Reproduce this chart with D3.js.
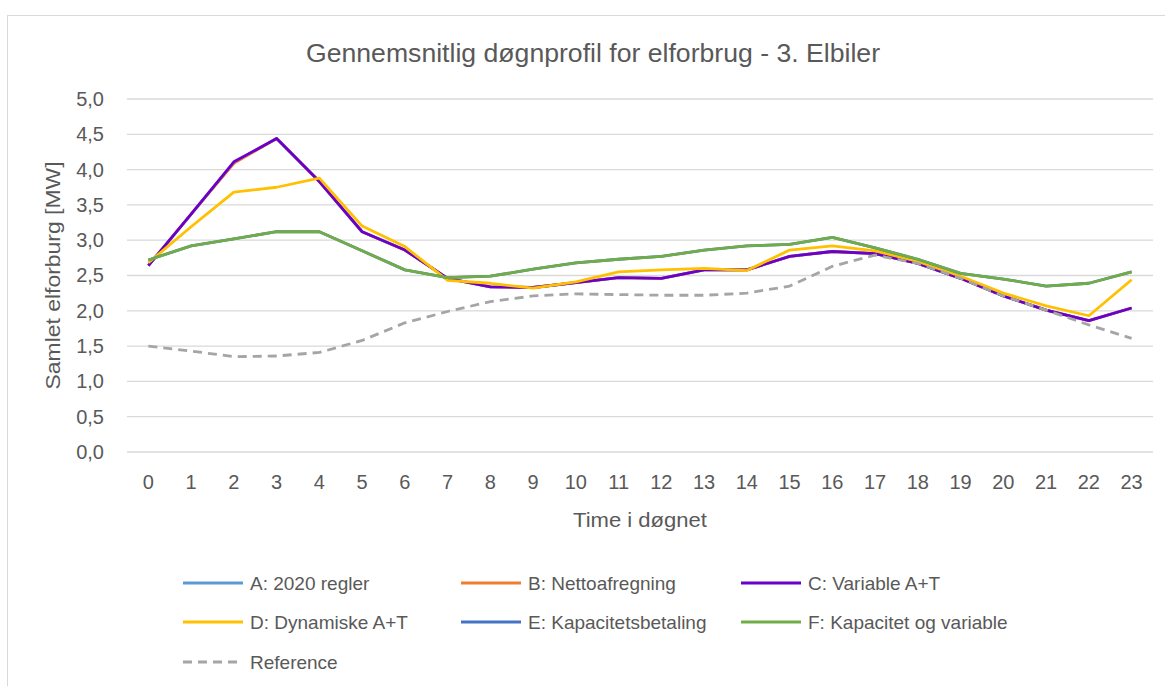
<!DOCTYPE html>
<html><head><meta charset="utf-8">
<script src="https://cdn.jsdelivr.net/npm/d3@7"></script>
<style>body{margin:0;background:#fff;}svg{display:block;}</style>
</head><body>
<svg id="chart" width="1165" height="686"></svg>
<script>
const hours = d3.range(0, 24);
const seriesNames = ["A: 2020 regler","B: Nettoafregning","C: Variable A+T","D: Dynamiske A+T","E: Kapacitetsbetaling","F: Kapacitet og variable","Reference"];
const seriesColors = ["#5B9BD5","#ED7D31","#6A00CC","#FFC000","#4472C4","#70AD47","#A5A5A5"];
const valuesA = [2.64,3.37,4.10,4.44,3.83,3.12,2.86,2.46,2.34,2.33,2.40,2.47,2.46,2.58,2.58,2.77,2.84,2.81,2.67,2.46,2.21,2.01,1.86,2.04];
const valuesB = [2.64,3.37,4.09,4.44,3.83,3.12,2.86,2.46,2.34,2.33,2.40,2.47,2.46,2.58,2.58,2.77,2.84,2.81,2.67,2.46,2.21,2.01,1.86,2.04];
const valuesC = [2.64,3.37,4.11,4.44,3.83,3.12,2.86,2.46,2.34,2.33,2.40,2.47,2.46,2.58,2.58,2.77,2.84,2.81,2.67,2.46,2.21,2.01,1.86,2.04];
const valuesD = [2.68,3.19,3.68,3.75,3.88,3.20,2.91,2.43,2.39,2.32,2.41,2.55,2.58,2.60,2.57,2.86,2.92,2.85,2.70,2.49,2.25,2.07,1.93,2.44];
const valuesE = [2.72,2.92,3.02,3.12,3.12,2.85,2.58,2.47,2.49,2.59,2.68,2.73,2.77,2.86,2.92,2.94,3.04,2.89,2.73,2.53,2.45,2.35,2.39,2.55];
const valuesF = [2.72,2.92,3.02,3.12,3.12,2.85,2.58,2.47,2.49,2.59,2.68,2.73,2.77,2.86,2.92,2.94,3.04,2.89,2.73,2.53,2.45,2.35,2.39,2.55];
const valuesRef = [1.50,1.43,1.35,1.36,1.41,1.58,1.83,1.99,2.13,2.21,2.24,2.23,2.22,2.22,2.25,2.35,2.63,2.79,2.67,2.46,2.21,2.01,1.80,1.61];
const yTicks = [0,0.5,1,1.5,2,2.5,3,3.5,4,4.5,5];
const title = "Gennemsnitlig døgnprofil for elforbrug - 3. Elbiler";
const yTitle = "Samlet elforburg [MW]";
const xTitle = "Time i døgnet";

const allValues = [valuesA,valuesB,valuesC,valuesD,valuesE,valuesF,valuesRef];
const font = "'Liberation Sans', Arial, sans-serif";
const textColor = "#595959";
const svg = d3.select("#chart");

// chart border
svg.append("rect").attr("x",7.5).attr("y",15.5).attr("width",1170).attr("height",700)
  .attr("fill","#fff").attr("stroke","#d9d9d9").attr("stroke-width",1);

const plotLeft = 127, plotRight = 1153, plotTop = 99, plotBottom = 452;
const x = d3.scaleBand().domain(hours).range([plotLeft, plotRight]);
const y = d3.scaleLinear().domain([0,5]).range([plotBottom, plotTop]);

// gridlines
svg.append("g").selectAll("line").data(yTicks).join("line")
  .attr("x1",plotLeft).attr("x2",plotRight).attr("y1",d=>y(d)).attr("y2",d=>y(d))
  .attr("stroke","#d9d9d9").attr("stroke-width",1.3);

// y axis labels
const yAxis = d3.axisLeft(y).tickValues(yTicks).tickSize(0).tickPadding(0)
  .tickFormat(d=>d3.format(".1f")(d).replace(".",","));
const gy = svg.append("g").attr("transform",`translate(${plotLeft-23},0)`).call(yAxis);
gy.select(".domain").remove();
gy.selectAll("text").attr("font-family",font).attr("font-size",20).attr("fill",textColor);

// x axis labels
const xAxis = d3.axisBottom(x).tickSize(0).tickPadding(0);
const gx = svg.append("g").attr("transform",`translate(0,${plotBottom+23})`).call(xAxis);
gx.select(".domain").remove();
gx.selectAll("text").attr("font-family",font).attr("font-size",20).attr("fill",textColor);

// titles
svg.append("text").attr("x",593).attr("y",62).attr("text-anchor","middle")
  .attr("font-family",font).attr("font-size",25).attr("fill",textColor)
  .attr("textLength",574).attr("lengthAdjust","spacingAndGlyphs").text(title);
svg.append("text").attr("x",(plotLeft+plotRight)/2).attr("y",527).attr("text-anchor","middle")
  .attr("font-family",font).attr("font-size",21).attr("fill",textColor)
  .attr("textLength",134).attr("lengthAdjust","spacingAndGlyphs").text(xTitle);
svg.append("text").attr("transform",`translate(60,${(plotTop+plotBottom)/2 + 0}) rotate(-90)`).attr("text-anchor","middle")
  .attr("font-family",font).attr("font-size",21).attr("fill",textColor)
  .attr("textLength",228).attr("lengthAdjust","spacingAndGlyphs").text(yTitle);

// lines
const line = d3.line().x((d,i)=>x(hours[i])+x.bandwidth()/2).y(d=>y(d));
allValues.forEach((vals,i)=>{
  svg.append("path").datum(vals).attr("d",line).attr("fill","none")
    .attr("stroke",seriesColors[i]).attr("stroke-width",2.8)
    .attr("stroke-linejoin","round")
    .attr("stroke-dasharray", i===6 ? "9,6" : null);
});

// legend
const legCols = [183, 461, 741];
const legRows = [583, 622, 662];
seriesNames.forEach((name,i)=>{
  const cx = legCols[i%3], cy = legRows[Math.floor(i/3)];
  const g = svg.append("g");
  g.append("line").attr("x1",cx).attr("x2",cx+60).attr("y1",cy).attr("y2",cy)
    .attr("stroke",seriesColors[i]).attr("stroke-width",2.8)
    .attr("stroke-dasharray", i===6 ? "9,6" : null);
  g.append("text").attr("x",cx+67).attr("y",cy+7).attr("font-family",font)
    .attr("font-size",19).attr("fill",textColor).text(name);
});
</script>
</body></html>
